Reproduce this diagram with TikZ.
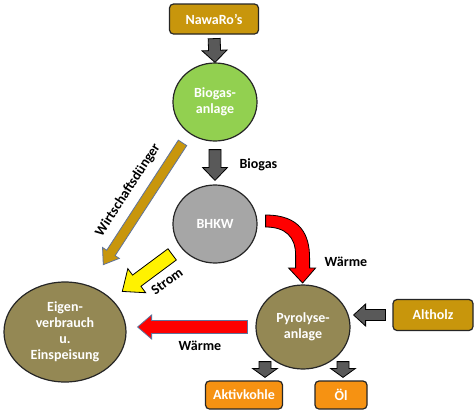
\documentclass[tikz,border=0pt]{standalone}
\usepackage{fontspec}
\setmainfont{Carlito}
\usetikzlibrary{calc,shapes.geometric}
\definecolor{boxgold}{RGB}{200,150,12}
\definecolor{boxorange}{RGB}{246,146,18}
\definecolor{blobgreen}{RGB}{146,208,80}
\definecolor{blobgray}{RGB}{166,166,166}
\definecolor{blobolive}{RGB}{148,136,84}
\definecolor{arrgray}{RGB}{89,89,89}
\definecolor{arrblue}{RGB}{95,115,155}
\newcommand\blkarrow[8]{%
	\coordinate (ba0) at (#2);
	\coordinate (bb0) at (#3);
	\coordinate (ba) at ($(ba0)!#4!(bb0)$);
	\coordinate (bb) at ($(bb0)!#5!(ba0)$);
	\coordinate (bh) at ($(bb)!#8!(ba)$);
	\filldraw[#1] ($(ba)!#6!90:(bb)$) -- ($(bh)!#6!90:(bb)$) -- ($(bh)!#7!90:(bb)$) -- (bb)
		-- ($(bh)!#7!-90:(bb)$) -- ($(bh)!#6!-90:(bb)$) -- ($(ba)!#6!-90:(bb)$) -- cycle;
}
\begin{document}
\begin{tikzpicture}[x=1pt,y=-1pt,
	every node/.style={font=\fontsize{14}{16}\selectfont\bfseries},
	box/.style={draw=black!85,line width=1.2pt,rounded corners=4pt,text=white,minimum height=30pt},
	blob/.style={ellipse,draw=black!85,line width=1.2pt,text=white,align=center,inner sep=0pt},
	grayarr/.style={fill=arrgray,draw=black,line width=0.8pt},
	redarr/.style={fill=red,draw=arrblue,line width=0.8pt},
	redcurve/.style={fill=red,draw=black,line width=0.8pt},
	yelarr/.style={fill=yellow,draw=black,line width=0.8pt},
	goldarr/.style={fill=boxgold,draw=arrblue,line width=0.8pt}]
	\fill[white] (0,0) rectangle (475,416);
	\useasboundingbox (0,0) rectangle (475,416);
	\node[box,fill=boxgold,minimum width=89pt] (nawaro) at (214,19) {NawaRo’s};
	\node[blob,fill=blobgreen,minimum width=84pt,minimum height=78pt] (biogas) at (215,102) {Biogas-\\anlage};
	\node[blob,fill=blobgray,minimum width=84pt,minimum height=78pt] (bhkw) at (215,224) {BHKW};
	\node[blob,fill=blobolive,minimum width=94pt,minimum height=84pt] (pyro) at (303,327) {Pyrolyse-\\anlage};
	\node[blob,fill=blobolive,minimum width=122pt,minimum height=100pt] (eigen) at (65,332) {Eigen-\\verbrauch\\u.\\Einspeisung};
	\node[box,fill=boxgold,minimum width=80pt,minimum height=31pt] (altholz) at (433,315) {Altholz};
	\node[box,fill=boxorange,minimum width=77pt,minimum height=28pt] (aktiv) at (244,395) {Aktivkohle};
	\node[box,fill=boxorange,minimum width=52pt,minimum height=28pt] (oel) at (341,395) {Öl};
	\blkarrow{grayarr}{nawaro.south}{biogas.north}{4pt}{0pt}{6pt}{12.5pt}{12pt}
	\blkarrow{grayarr}{biogas.south}{bhkw.north}{8pt}{4pt}{6pt}{12.5pt}{13pt}
	\blkarrow{grayarr}{altholz.west}{altholz.west -| pyro.east}{7pt}{3pt}{5.5pt}{11pt}{12pt}
	\blkarrow{grayarr}{$(pyro.south)+(-38,-8)$}{$(aktiv.north)+(21,-3)$}{0pt}{0pt}{6pt}{12.5pt}{9pt}
	\blkarrow{grayarr}{$(pyro.south)+(40,-8)$}{$(oel.north)+(2,-3)$}{0pt}{0pt}{6pt}{12.5pt}{9pt}
	\blkarrow{redarr}{pyro.west}{pyro.west -| eigen.east}{8pt}{11pt}{6.5pt}{12pt}{14pt}
	\blkarrow{yelarr}{bhkw.215}{eigen.35}{11pt}{13pt}{7pt}{15pt}{18pt}
	\blkarrow{goldarr}{biogas.230}{eigen.62}{11.5pt}{25pt}{5pt}{10pt}{14pt}
	\begin{scope}[shift={(bhkw.east)}]
		\filldraw[redcurve] (8,-9) .. controls (43,-9) and (52,11) .. (52,34) -- (52,44) -- (58,44) -- (45,59)
			-- (31,44) -- (38,44) -- (38,31) .. controls (38,13) and (28,3) .. (8,3) -- cycle;
	\end{scope}
	\node[anchor=west] (lbiogas) at (236,165) {Biogas};
	\node (lwaerme) at (346,262) {Wärme};
	\node (lwaermeb) at (200,346) {Wärme};
	\node[rotate=36] (lstrom) at (167,281) {Strom};
	\node[rotate=57] (ldung) at (128,190) {Wirtschaftsdünger};
\end{tikzpicture}
\end{document}
